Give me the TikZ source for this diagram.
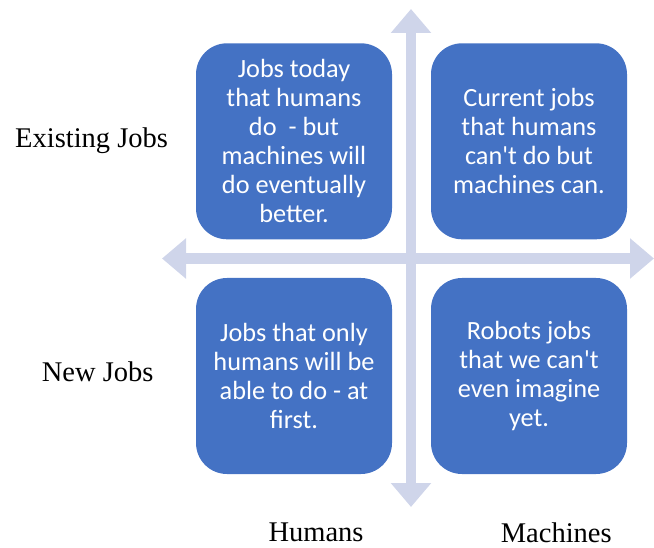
\documentclass[tikz,border=0pt]{standalone}
\usepackage{fontspec}
\setmainfont{Liberation Serif}
\newfontfamily\boxfont{Carlito}
\usetikzlibrary{arrows.meta}
\definecolor{quadblue}{HTML}{4472C4}
\definecolor{axislav}{HTML}{CFD5EA}
\tikzset{
  quadbox/.style={fill=quadblue, rounded corners=31pt, minimum width=196pt,
    minimum height=196pt, inner sep=0pt, text=white, align=center,
    font=\boxfont\fontsize{26.3}{29}\selectfont},
  axisarrow/.style={draw=axislav, line width=10.5pt,
    {Triangle[width=39pt,length=24pt]}-{Triangle[width=39pt,length=24pt]}},
  sidelabel/.style={inner sep=0pt, anchor=base west,
    font=\fontsize{28.5}{32}\selectfont}
}
\begin{document}
\begin{tikzpicture}[x=1pt,y=-1pt]
  \useasboundingbox (0,0) rectangle (654,548);

  % axis end points
  \coordinate (vtop) at (411,9);
  \coordinate (vbot) at (411,507);
  \coordinate (hleft) at (162,258.5);
  \coordinate (hright) at (654,258.5);
  \draw[axisarrow] (vtop) -- (vbot);
  \draw[axisarrow] (hleft) -- (hright);

  % quadrants
  \node[quadbox] (tl) at (294,141.3) {Jobs today\\that humans\\do~~- but\\machines will\\do eventually\\better.};
  \node[quadbox] (tr) at (529,141.3) {Current jobs\\that humans\\can't do but\\machines can.};
  \node[quadbox] (bl) at (294,376) {Jobs that only\\humans will be\\able to do - at\\first.};
  \node[quadbox] (br) at (529,376) {Robots jobs\\that we can't\\even imagine\\yet.};

  % row and column labels
  \node[sidelabel] (existing) at (15,147.7) {Existing Jobs};
  \node[sidelabel] (newjobs) at (41.7,381.7) {New Jobs};
  \node[sidelabel] (humans) at (268.3,541.7) {Humans};
  \node[sidelabel] (machines) at (500.7,542.7) {Machines};
\end{tikzpicture}
\end{document}
